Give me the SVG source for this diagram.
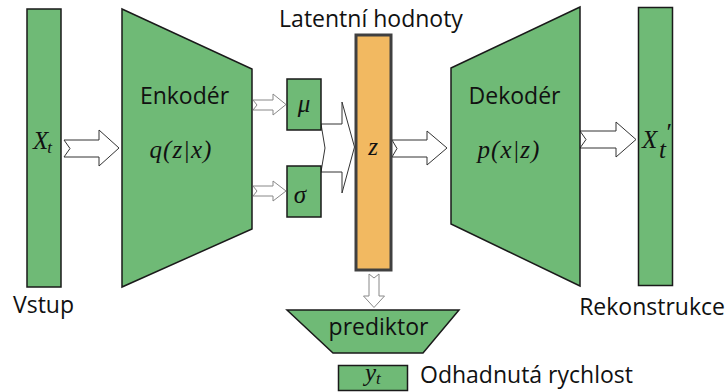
<svg xmlns="http://www.w3.org/2000/svg" width="726" height="392" viewBox="0 0 726 392">
<style>
.g{fill:#6fba76;stroke:#1a1a1a;stroke-width:1.5}
.lbl{font-family:"Open Sans","Noto Sans",sans-serif;font-size:23px;fill:#111}
.m{font-family:"Liberation Serif","DejaVu Serif",serif;font-style:italic;font-size:25px;fill:#111}
.s{font-size:17px}
.arr{fill:#fff;stroke:#333;stroke-width:1}
.arrl{fill:#fff;stroke:#888;stroke-width:1}
</style>
<rect width="726" height="392" fill="#fff"/>
<g id="connectors">
<polygon class="arr" points="64,140 99,140 99,130 119,148 99,166 99,157 64,157 70,148.5"/>
<polygon class="arrl" points="253,100 273,100 273,94 286,104.5 273,115 273,110 253,110 257,105"/>
<polygon class="arrl" points="253,186 273,186 273,181 286,191 273,201 273,196 253,196 257,191"/>
<polygon class="arr" points="321,124 342,124 342,102 354.5,147 342,193 342,172 321,172 325,148"/>
<polygon class="arr" points="392,140 427,140 427,131 447,148 427,165 427,157 392,157 397,148.5"/>
<polygon class="arr" points="580,131 616,131 616,122 636,139.5 616,157 616,148 580,148 586,139.5"/>
<polygon class="arrl" points="369,274 374,278 379,274 379,296 384.5,296 374,307.5 363.5,296 369,296"/>
</g>
<g id="input">
<rect class="g" x="27" y="9" width="34" height="278"/>
<text class="m" x="33" y="149">X<tspan class="s" dx="-1" dy="4">t</tspan></text>
<text class="lbl" x="13" y="313">Vstup</text>
</g>
<g id="encoder">
<polygon class="g" points="122,9 252,69 252,229 122,287"/>
<text class="lbl" x="184.5" y="104" text-anchor="middle">Enkodér</text>
<text class="m" x="181" y="158" text-anchor="middle" font-size="23" letter-spacing="1">q(z|x)</text>
</g>
<g id="mu">
<rect class="g" x="287" y="79" width="34" height="51"/>
<text class="m" x="304" y="112" text-anchor="middle">μ</text>
</g>
<g id="sigma">
<rect class="g" x="287" y="166" width="34" height="51"/>
<text class="m" x="300" y="203" text-anchor="middle">σ</text>
</g>
<g id="latent">
<rect x="356" y="35" width="35" height="235" fill="#f2b961" stroke="#404040" stroke-width="3"/>
<text class="m" x="373" y="155" text-anchor="middle">z</text>
<text class="lbl" x="371" y="27" text-anchor="middle">Latentní hodnoty</text>
</g>
<g id="decoder">
<polygon class="g" points="451,68 580,7 580,286 451,224"/>
<text class="lbl" x="514.5" y="104" text-anchor="middle">Dekodér</text>
<text class="m" x="509" y="158" text-anchor="middle" font-size="23" letter-spacing="1">p(x|z)</text>
</g>
<g id="output">
<rect class="g" x="638.5" y="7.5" width="34" height="278"/>
<text class="m" x="642" y="148">X</text>
<text class="m" x="665" y="141" font-size="20" font-style="normal">′</text>
<text class="m" x="659" y="158" font-size="16">t</text>
<text class="lbl" x="725" y="315" text-anchor="end">Rekonstrukce</text>
</g>
<g id="predictor">
<polygon class="g" points="287,310 459,310 423,353 333,353"/>
<text class="lbl" x="378.5" y="335" text-anchor="middle">prediktor</text>
</g>
<g id="yt">
<rect class="g" x="338.5" y="365.5" width="69" height="25"/>
<text class="m" x="365" y="381">y<tspan class="s" dy="3">t</tspan></text>
<text class="lbl" x="420" y="383">Odhadnutá rychlost</text>
</g>
</svg>
